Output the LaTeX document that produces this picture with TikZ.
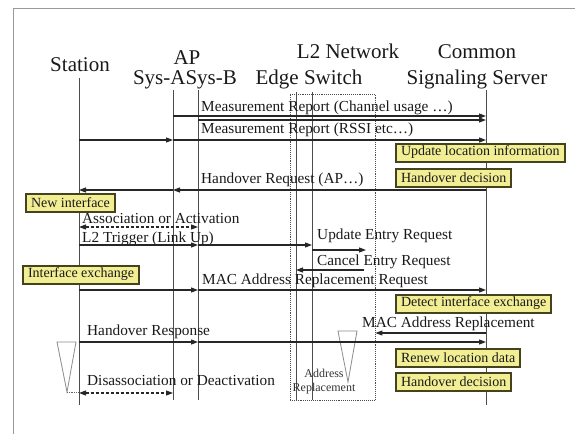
\documentclass[tikz,border=0pt]{standalone}
\usepackage{fontspec}
\setmainfont{Liberation Serif}
\usetikzlibrary{arrows.meta,positioning,calc}
\definecolor{notefill}{HTML}{F2EE94}
\definecolor{notedraw}{HTML}{45431E}
\tikzset{
  >={Triangle[length=7pt,width=5pt]},
  head/.style={font=\fontsize{21}{22}\selectfont, text=black!90, anchor=base, inner sep=0pt},
  msg/.style={font=\fontsize{15.3}{16}\selectfont, text=black!90, anchor=base west, inner sep=0pt},
  life/.style={draw=black!70, line width=0.8pt},
  call/.style={draw=black!85, line width=1.1pt, ->},
  note/.style={draw=notedraw, line width=2pt, fill=notefill, anchor=west,
               font=\fontsize{14}{14}\selectfont, text=black!90,
               minimum height=18pt, inner xsep=5pt, inner ysep=1pt},
  funnel/.style={draw=black!45, line width=0.8pt}
}

\begin{document}
\begin{tikzpicture}[x=1pt,y=-1pt]
    \useasboundingbox (0,0) rectangle (575,434);
    % Frame
    \draw[black!40, line width=1pt] (13,434) -- (13,8) -- (575,8);
    % Headers
    \node[head] (sta) at (80,71) {Station};
    \node[head] (ap)  at (187,64) {AP};
    \node[head] (sys) at (185,84) {Sys-ASys-B};
    \node[head] (l2)  at (348,58) {L2 Network};
    \node[head] (esw) at (309,84) {Edge Switch};
    \node[head] (com) at (477,58) {Common};
    \node[head] (srv) at (477,84) {Signaling Server};
    % Lifelines
    \coordinate (staL) at (79,78);
    \coordinate (apaL) at (173,90);
    \coordinate (apbL) at (198,90);
    \coordinate (swaL) at (296,92);
    \coordinate (swbL) at (312,92);
    \coordinate (srvL) at (486,90);
    \draw[life] (staL) -- (staL |- 0,405);
    \draw[life] (apaL) -- (apaL |- 0,400);
    \draw[life] (apbL) -- (apbL |- 0,400);
    \draw[life] (swaL) -- (swaL |- 0,400);
    \draw[life] (swbL) -- (swbL |- 0,400);
    \draw[life] (srvL) -- (srvL |- 0,405);
    \node[draw=black!70, densely dotted, line width=0.9pt, inner sep=0pt,
          minimum width=85pt, minimum height=306pt] (esbox) at (332.5,247) {};
    % Funnels
    \draw[funnel] (57,342) -- (76,342) -- (67,392) -- cycle;
    \draw[funnel] (338,331) -- (357,331) -- (348,382) -- cycle;
    \draw[black!60, densely dotted, line width=0.8pt] (67,392) -- (staL |- 0,392);
    \node[font=\fontsize{12}{13}\selectfont, text=black!80, anchor=base, inner sep=0pt]
         (addr) at (324,377) {Address};
    \node[font=\fontsize{12}{13}\selectfont, text=black!80, anchor=base, inner sep=0pt]
         (repl) at (324,391) {Replacement};
    % Messages
    \node[msg] (m1) at (201,111) {Measurement Report (Channel usage \dots)};
    \draw[call] (apaL |- 0,116) -- (srvL |- 0,116);
    \draw[call] (apbL |- 0,120) -- (srvL |- 0,120);
    \node[msg] (m2) at (201,133) {Measurement Report (RSSI etc\dots)};
    \draw[call] (staL |- 0,140) -- (apaL |- 0,140);
    \draw[call] (apaL |- 0,140) -- (srvL |- 0,140);
    \node[msg] (m3) at (201,183) {Handover Request (AP\dots)};
    \draw[call] (srvL |- 0,190) -- (apaL |- 0,190);
    \draw[call] (apaL |- 0,190) -- (staL |- 0,190);
    \node[msg] (m4) at (82,223) {Association or Activation};
    \draw[call, <->, densely dashed] (staL |- 0,227) -- (apbL |- 0,227);
    \node[msg] (m5) at (82,242) {L2 Trigger (Link Up)};
    \draw[call] (staL |- 0,245) -- (apbL |- 0,245);
    \draw[call] (apbL |- 0,245) -- (swbL |- 0,245);
    \node[msg] (m6) at (317,239) {Update Entry Request};
    \coordinate (updE) at (366,250);
    \draw[call] (swbL |- updE) -- (updE);
    \node[msg] (m7) at (317,265) {Cancel Entry Request};
    \coordinate (canS) at (364,270);
    \draw[call] (canS) -- (swaL |- canS);
    \node[msg] (m8) at (202,284) {MAC Address Replacement Request};
    \draw[call] (staL |- 0,290) -- (apbL |- 0,290);
    \draw[call] (apbL |- 0,290) -- (srvL |- 0,290);
    \node[msg] (m9) at (362,327) {MAC Address Replacement};
    \draw[call] (srvL |- 0,333) -- (esbox.east |- 0,333);
    \node[msg] (m10) at (87,335) {Handover Response};
    \draw[call] (staL |- 0,342) -- (apbL |- 0,342);
    \draw[call] (apbL |- 0,342) -- (srvL |- 0,342);
    \node[msg] (m11) at (87,385) {Disassociation or Deactivation};
    \draw[call, <->, densely dashed] (staL |- 0,393) -- (apaL |- 0,393);
    % Notes
    \node[note] (upd)  at (395,152.5) {Update location information};
    \node[note] (hod)  at (395,177.5) {Handover decision};
    \node[note] (newi) at (25,202.5)  {New interface};
    \node[note] (ifx)  at (22,274.5)  {Interface exchange};
    \node[note] (dix)  at (395,303.5) {Detect interface exchange};
    \node[note] (ren)  at (395,358)   {Renew location data};
    \node[note] (hod2) at (395,381.5) {Handover decision};
\end{tikzpicture}
\end{document}
